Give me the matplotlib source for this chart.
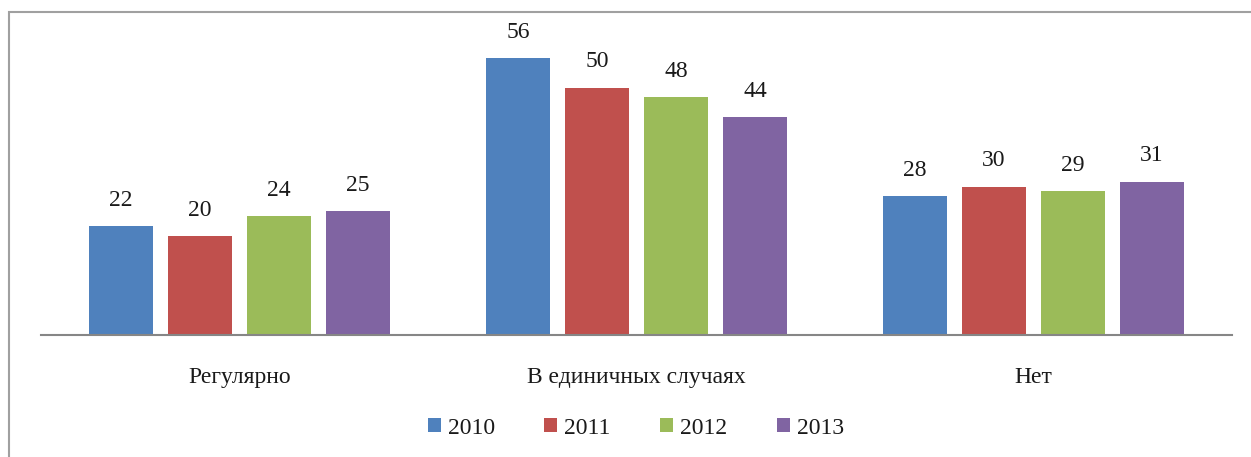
import matplotlib.pyplot as plt
from matplotlib.patches import Rectangle
import numpy as np

categories = ["Регулярно", "В единичных случаях", "Нет"]
years = ["2010", "2011", "2012", "2013"]
values = {
    "2010": [22, 56, 28],
    "2011": [20, 50, 30],
    "2012": [24, 48, 29],
    "2013": [25, 44, 31],
}
colors = ["#4F81BD", "#C0504D", "#9BBB59", "#8064A2"]

W, H = 1251, 457
fig = plt.figure(figsize=(W / 100, H / 100), dpi=100)
plt.rcParams['font.family'] = ['Liberation Serif', 'DejaVu Serif']
FS = 17

# outer frame (cropped on right/bottom)
fig.patches.append(Rectangle((9 / W, -0.1), 1.2, (H - 12) / H + 0.1,
                             transform=fig.transFigure, fill=False,
                             edgecolor="#A0A0A0", linewidth=1.5))

ax = fig.add_axes([41 / W, (H - 335) / H, (1232 - 41) / W, (335 - 38) / H])
x = np.arange(len(categories))
step = 0.199
width = 0.159
for j, (yr, c) in enumerate(zip(years, colors)):
    pos = x + (j - 1.5) * step
    bars = ax.bar(pos, values[yr], width=width, color=c, label=yr)
    for b, v in zip(bars, values[yr]):
        ax.text(b.get_x() + b.get_width() / 2, v + 5.2, str(v),
                ha="center", va="center", fontsize=FS, color="#1a1a1a")

ax.set_xlim(-0.5, 2.5)
ax.set_ylim(0, 60)
ax.set_yticks([])
ax.set_xticks(x)
ax.set_xticklabels(categories, fontsize=FS, color="#1a1a1a")
ax.tick_params(axis="x", length=0, pad=23)
for s in ["top", "right", "left"]:
    ax.spines[s].set_visible(False)
ax.spines["bottom"].set_color("#868686")
ax.spines["bottom"].set_linewidth(1.5)

leg = fig.legend(loc="center", bbox_to_anchor=(636 / W, 1 - 428 / H), ncol=4,
                 frameon=False, fontsize=FS, handlelength=0.55, handleheight=0.55,
                 handletextpad=0.3, columnspacing=2.1)
for t in leg.get_texts():
    t.set_color("#1a1a1a")

fig.savefig("out.png", dpi=100)
